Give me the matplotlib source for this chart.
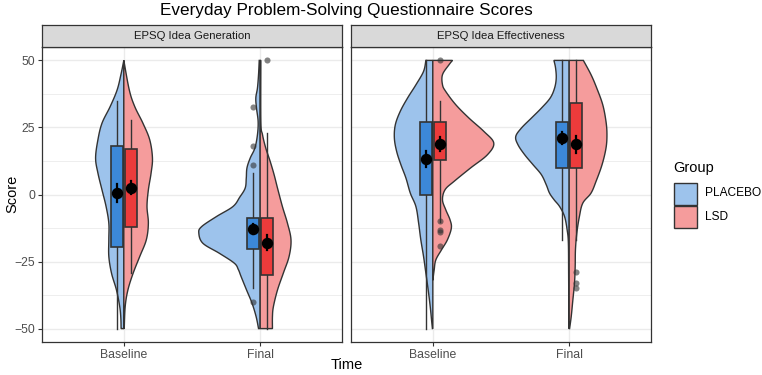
import matplotlib
matplotlib.use("Agg")
import numpy as np
import matplotlib.pyplot as plt
from matplotlib.patches import Polygon, Rectangle

plt.rcParams['font.family'] = ['Liberation Sans', 'DejaVu Sans']

facets = ["EPSQ Idea Generation", "EPSQ Idea Effectiveness"]
times = ["Baseline", "Final"]
groups = ["PLACEBO", "LSD"]

# violin outlines: score levels and half widths (x units)
gen_base_pl_y = [50, 45, 39, 32.8, 26.6, 20.4, 13.6, 8, 1.7, -4.5, -10.7, -16.9, -23.1, -29.4, -35.6, -41.8, -46, -50]
gen_base_pl_w = [0, 0.02, 0.049, 0.10, 0.16, 0.19, 0.207, 0.19, 0.16, 0.13, 0.11, 0.11, 0.11, 0.09, 0.054, 0.03, 0.022, 0.02]
gen_base_lsd_y = [50, 39, 32.8, 26.6, 20.4, 13.6, 8, 1.7, -4.5, -10.7, -16.9, -23.1, -29.4, -35.6, -41.8, -50]
gen_base_lsd_w = [0, 0.04, 0.08, 0.14, 0.19, 0.21, 0.2, 0.18, 0.17, 0.18, 0.165, 0.117, 0.068, 0.03, 0.01, 0.003]
gen_final_pl_y = [50, 44.7, 39.7, 36, 32.2, 27.2, 22.3, 17.3, 13.6, 9.9, 6.1, 2.4, -1, -4.5, -8.2, -12, -14.4,
                  -18.2, -21.9, -25.6, -28, -30.6, -35.6, -40.5, -45.5, -50]
gen_final_pl_w = [0.007, 0.012, 0.02, 0.032, 0.027, 0.015, 0.02, 0.039, 0.073, 0.097, 0.102, 0.11, 0.15, 0.2,
                  0.32, 0.43, 0.45, 0.42, 0.30, 0.19, 0.16, 0.14, 0.10, 0.06, 0.03, 0.012]
gen_final_lsd_y = [50, 27.2, 22.3, 17.3, 12.4, 7.4, 2.4, -4.5, -10.7, -16.9, -23.1, -29.3, -35.6, -41.8, -45.5, -50]
gen_final_lsd_w = [0.005, 0.005, 0.017, 0.041, 0.073, 0.102, 0.127, 0.163, 0.2, 0.226, 0.212, 0.17, 0.127, 0.097, 0.09, 0.09]

eff_base_pl_y = [50, 45.9, 40.9, 36, 31, 26, 21, 16, 11.1, 6.1, 0.5, -4.5, -10.7, -16.9, -23.1, -29.3, -35.6, -41.8, -48, -50]
eff_base_pl_w = [0.051, 0.068, 0.124, 0.185, 0.239, 0.275, 0.282, 0.265, 0.234, 0.197, 0.165, 0.124, 0.104, 0.088,
                 0.068, 0.051, 0.034, 0.019, 0.007, 0.003]
eff_base_lsd_y = [50, 48.4, 44.7, 40.9, 38.4, 33.5, 28.5, 23.5, 19.2, 14.8, 9.9, 4.9, 1.8, -2, -5.7, -9.4, -12.5,
                  -16.9, -20.6, -24.4, -28.1, -32]
eff_base_lsd_w = [0.144, 0.119, 0.071, 0.071, 0.095, 0.168, 0.265, 0.375, 0.447, 0.4, 0.277, 0.156, 0.09, 0.071,
                  0.095, 0.126, 0.136, 0.107, 0.064, 0.022, 0.01, 0.0]
eff_final_pl_y = [50, 47.2, 43.4, 39.7, 36, 32.2, 28.5, 24.8, 21.6, 18.5, 14.8, 11.1, 7.4, 3.6, 0.5, -2, -4.5,
                  -8.2, -13.2, -18, -30, -50]
eff_final_pl_w = [0.112, 0.10, 0.095, 0.107, 0.139, 0.204, 0.277, 0.35, 0.392, 0.375, 0.326, 0.265, 0.204, 0.168,
                  0.144, 0.11, 0.07, 0.034, 0.015, 0.006, 0.004, 0.002]
eff_final_lsd_y = [50, 44.7, 39.7, 33.5, 27.2, 22.3, 17.3, 11.1, 4.9, 0.5, -3.2, -8.2, -14.4, -20.6, -26.9, -33,
                   -39.3, -45.5, -50]
eff_final_lsd_w = [0.104, 0.16, 0.202, 0.246, 0.27, 0.277, 0.27, 0.241, 0.197, 0.16, 0.1, 0.075, 0.056, 0.046,
                   0.044, 0.039, 0.027, 0.015, 0.003]

# box stats per time: [lower whisker, q1, q3, upper whisker]
gen_pl_box = [[-50, -19.5, 18.2, 35], [-35, -20.4, -8.8, 8]]
gen_lsd_box = [[-29.1, -12.2, 17.0, 27.9], [-50, -30.1, -8.6, 23]]
eff_pl_box = [[-50, -0.1, 27.2, 50], [-17, 10.0, 27.2, 50]]
eff_lsd_box = [[-10.3, 12.7, 27.2, 35], [-17, 10.0, 34.1, 50]]

gen_pl_out = [[], [32.8, 17.9, 11.0, -40.0]]
gen_lsd_out = [[], [50]]
eff_pl_out = [[], []]
eff_lsd_out = [[50, -10, -13.2, -13.8, -19.1], [-28.8, -33, -34.9]]

# means and standard errors
gen_pl_mean = [0.6, -12.8]
gen_pl_se = [3.5, 1.8]
gen_lsd_mean = [2.6, -17.9]
gen_lsd_se = [2.5, 2.9]
eff_pl_mean = [13.2, 21.0]
eff_pl_se = [3.0, 2.2]
eff_lsd_mean = [18.9, 18.8]
eff_lsd_se = [2.6, 3.2]

violins = [
    {"PLACEBO": [(gen_base_pl_y, gen_base_pl_w), (gen_final_pl_y, gen_final_pl_w)],
     "LSD": [(gen_base_lsd_y, gen_base_lsd_w), (gen_final_lsd_y, gen_final_lsd_w)]},
    {"PLACEBO": [(eff_base_pl_y, eff_base_pl_w), (eff_final_pl_y, eff_final_pl_w)],
     "LSD": [(eff_base_lsd_y, eff_base_lsd_w), (eff_final_lsd_y, eff_final_lsd_w)]},
]
boxes = [{"PLACEBO": gen_pl_box, "LSD": gen_lsd_box}, {"PLACEBO": eff_pl_box, "LSD": eff_lsd_box}]
outliers = [{"PLACEBO": gen_pl_out, "LSD": gen_lsd_out}, {"PLACEBO": eff_pl_out, "LSD": eff_lsd_out}]
means = [{"PLACEBO": (gen_pl_mean, gen_pl_se), "LSD": (gen_lsd_mean, gen_lsd_se)},
         {"PLACEBO": (eff_pl_mean, eff_pl_se), "LSD": (eff_lsd_mean, eff_lsd_se)}]

violin_fill = {"PLACEBO": "#9DC3EC", "LSD": "#F59C9C"}
box_fill = {"PLACEBO": "#3C88D8", "LSD": "#EC3B3B"}
side = {"PLACEBO": -1, "LSD": 1}
dark = "#333333"

W, H = 762, 375
fig = plt.figure(figsize=(W / 100, H / 100), dpi=100)


def fr(x0, y0, x1, y1):
    return [x0 / W, 1 - y1 / H, (x1 - x0) / W, (y1 - y0) / H]


def smooth_outline(ys, ws, n=8):
    # catmull-rom curve through the traced points, just for drawing
    p = np.column_stack([ws, ys]).astype(float)
    p = np.vstack([p[0], p, p[-1]])
    out = []
    for i in range(1, len(p) - 2):
        p0, p1, p2, p3 = p[i - 1], p[i], p[i + 1], p[i + 2]
        for t in np.linspace(0, 1, n, endpoint=False):
            t2, t3 = t * t, t * t * t
            out.append(0.5 * (2 * p1 + (-p0 + p2) * t + (2 * p0 - 5 * p1 + 4 * p2 - p3) * t2
                              + (-p0 + 3 * p1 - 3 * p2 + p3) * t3))
    out.append(p[-2])
    out = np.array(out)
    out[:, 0] = np.clip(out[:, 0], 0, None)
    return out[:, 1], out[:, 0]


panel_x = [(42, 342), (351, 651)]
for k, facet in enumerate(facets):
    ax = fig.add_axes(fr(panel_x[k][0], 47, panel_x[k][1], 342))
    ax.set_xlim(0.4, 2.6)
    ax.set_ylim(-55, 55)
    ax.set_yticks([-50, -25, 0, 25, 50])
    ax.set_yticks([-37.5, -12.5, 12.5, 37.5], minor=True)
    ax.set_xticks([1, 2])
    ax.set_xticklabels(times)
    ax.grid(True, which="major", color="#EBEBEB", lw=1.0, zorder=0)
    ax.grid(True, which="minor", axis="y", color="#EBEBEB", lw=0.6, zorder=0)
    ax.set_axisbelow(True)
    for s in ax.spines.values():
        s.set_color(dark)
        s.set_linewidth(0.9)
    ax.tick_params(which="major", length=3, color=dark, labelsize=8.8, labelcolor="#4D4D4D", pad=2)
    ax.tick_params(which="minor", length=0)
    if k == 1:
        ax.tick_params(axis="y", which="both", left=False, labelleft=False)

    for t in range(len(times)):
        cx = t + 1
        for g in groups:
            sgn = side[g]
            vy, vw = violins[k][g][t]
            sy, sw = smooth_outline(vy, vw)
            pts = [(cx + sgn * w, y) for y, w in zip(sy, sw)]
            pts += [(cx, vy[-1]), (cx, vy[0])]
            ax.add_patch(Polygon(pts, closed=True, facecolor=violin_fill[g], edgecolor=dark, lw=1.0, zorder=2))

        for g in groups:
            bx = cx + side[g] * 0.05
            lo, q1, q3, hi = boxes[k][g][t]
            ax.plot([bx, bx], [q3, hi], color=dark, lw=1.0, zorder=3)
            ax.plot([bx, bx], [lo, q1], color=dark, lw=1.0, zorder=3)
            ax.add_patch(Rectangle((bx - 0.044, q1), 0.088, q3 - q1, facecolor=box_fill[g],
                                   edgecolor=dark, lw=1.2, zorder=4))
            outs = outliers[k][g][t]
            ax.plot([bx] * len(outs), outs, "o", color="#333333", alpha=0.6, ms=4.4, mec="none", zorder=5)
            m, se = means[k][g]
            ax.plot([bx, bx], [m[t] - se[t], m[t] + se[t]], color="black", lw=1.6, zorder=6)
            ax.plot([bx], [m[t]], "o", color="black", ms=7.2, zorder=7)

    sax = fig.add_axes(fr(panel_x[k][0], 25, panel_x[k][1], 47))
    sax.set_facecolor("#D9D9D9")
    sax.set_xticks([])
    sax.set_yticks([])
    for s in sax.spines.values():
        s.set_color(dark)
        s.set_linewidth(0.9)
    sax.text(0.5, 0.5, facet, ha="center", va="center", fontsize=8.2, color="#1A1A1A", transform=sax.transAxes)

fig.text(346.5 / W, 1 - 10 / H, "Everyday Problem-Solving Questionnaire Scores", ha="center", va="center",
         fontsize=12.3)
fig.text(346.5 / W, 1 - 365 / H, "Time", ha="center", va="center", fontsize=10.5)
fig.text(12 / W, 1 - 194 / H, "Score", ha="center", va="center", rotation=90, fontsize=10.5)

# legend
fig.text(673 / W, 1 - 168 / H, "Group", ha="left", va="center", fontsize=10.5)
for i, g in enumerate(groups):
    y0 = 182.5 + i * 23.5
    fig.add_artist(Rectangle((674 / W, 1 - (y0 + 22) / H), 22.5 / W, 22 / H, transform=fig.transFigure,
                             facecolor=violin_fill[g], edgecolor=dark, lw=1.0))
    fig.text(705 / W, 1 - (y0 + 11) / H, g, ha="left", va="center", fontsize=8.6)

fig.savefig("out.png", dpi=100)
